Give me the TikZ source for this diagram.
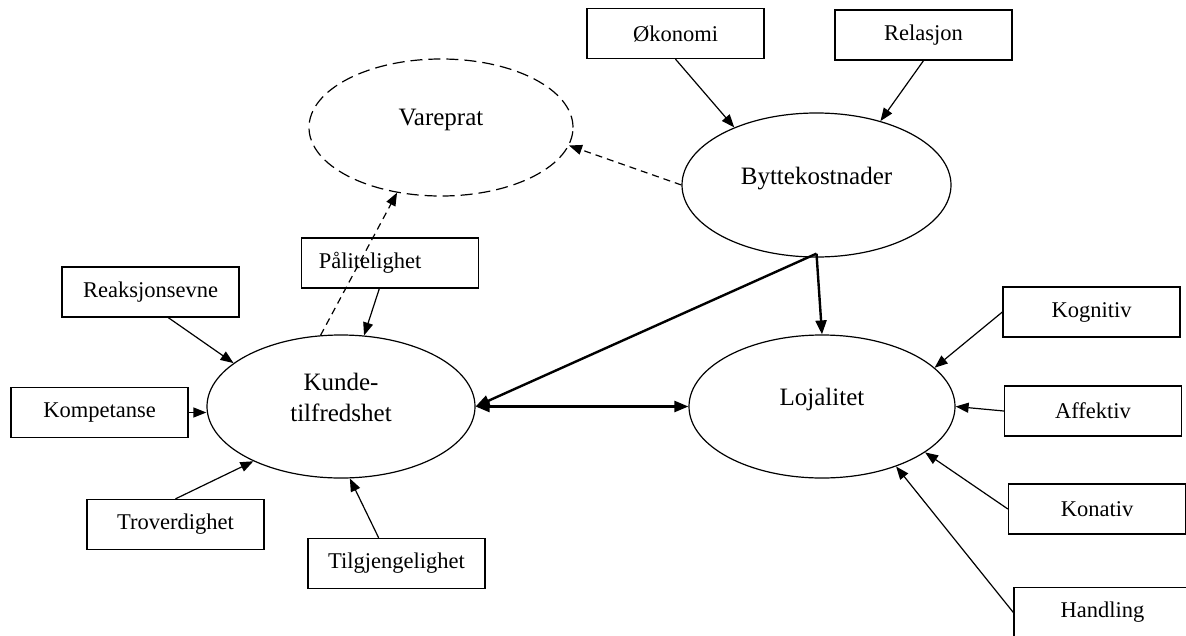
\documentclass[tikz,border=0pt]{standalone}
\usepackage{fontspec}
\setmainfont{Liberation Serif}
\usetikzlibrary{arrows.meta,shapes.geometric,calc}
\begin{document}
\begin{tikzpicture}[x=1pt,y=-1pt,
  box/.style={draw, line width=1.3pt, minimum width=177pt, minimum height=50pt, inner sep=2pt, font=\fontsize{22.5}{27}\selectfont},
  oval/.style={draw, ellipse, line width=1.2pt, inner sep=0pt, font=\fontsize{25}{31.5}\selectfont},
  arr/.style={line width=1.2pt, -{Triangle[length=13pt,width=10pt]}},
  dasharr/.style={line width=1.2pt, dash pattern=on 7pt off 5pt, -{Triangle[length=13pt,width=10pt]}},
  thickarr/.style={line width=2.4pt, -{Triangle[length=14pt,width=11pt]}},
  dblarr/.style={line width=2.4pt, {Triangle[length=14pt,width=11pt]}-{Triangle[length=14pt,width=11pt]}}
]
\useasboundingbox (0,0) rectangle (1186,635);

% ellipses
\node[oval, dash pattern=on 12pt off 6pt, minimum width=264pt, minimum height=137pt] (va) at (441,127.5) {\raisebox{2.5pt}[0pt][0pt]{Vareprat}};
\node[oval, minimum width=269pt, minimum height=144pt] (bk) at (816.5,185) {\raisebox{1pt}[0pt][0pt]{Byttekostnader}};
\node[oval, minimum width=268pt, minimum height=143pt] (ku) at (341,406.5) {\raisebox{-15pt}[0pt][0pt]{\begin{tabular}[b]{@{}c@{}}Kunde-\\tilfredshet\end{tabular}}};
\node[oval, minimum width=266pt, minimum height=143pt] (lo) at (822,406.5) {\raisebox{1.5pt}[0pt][0pt]{Lojalitet}};

% boxes
\node[box] (ok) at (675.5,33.5) {Økonomi};
\node[box] (re) at (923.5,35) {Relasjon};
\node[box] (pa) at (390,263) {Pålitelighet\hspace*{40pt}};
\node[box] (rk) at (150.5,292) {Reaksjonsevne};
\node[box] (kp) at (99.5,412.5) {Kompetanse};
\node[box] (tr) at (175.5,524.5) {Troverdighet};
\node[box] (ti) at (396.5,563.5) {Tilgjengelighet};
\node[box] (kg) at (1091.5,312) {Kognitiv};
\node[box] (af) at (1093,411) {Affektiv};
\node[box] (kn) at (1097,509) {Konativ};
\node[box] (ha) at (1102.5,612.5) {Handling};

\coordinate (apex) at ($(bk.south)+(0,-4)$);

% connectors
\draw[arr] (ok.south) -- (bk.145);
\draw[arr] (re.south) -- (bk.45);
\draw[dasharr] (bk.west) -- (va.-8);
\draw[dasharr] (ku.106) -- (va.236);
\draw[arr] ($(pa.south west)!0.44!(pa.south east)$) -- (ku.72);
\draw[arr] ($(rk.south west)!0.6!(rk.south east)$) -- (ku.158);
\draw[arr] (kp.east) -- (kp.east -| ku.west);
\draw[arr] (tr.north) -- (ku.212);
\draw[arr] ($(ti.north west)!0.4!(ti.north east)$) -- (ku.277);
\draw[thickarr] (apex) -- (lo.north);
\draw[thickarr] (apex) -- (ku.east);
\draw[dblarr] (ku.east) -- (lo.west);
\draw[arr] (kg.west) -- (lo.19);
\draw[arr] (af.west) -- (lo.east);
\draw[arr] (kn.west) -- (lo.-24);
\draw[arr] (ha.west) -- (lo.-39);
\end{tikzpicture}
\end{document}
